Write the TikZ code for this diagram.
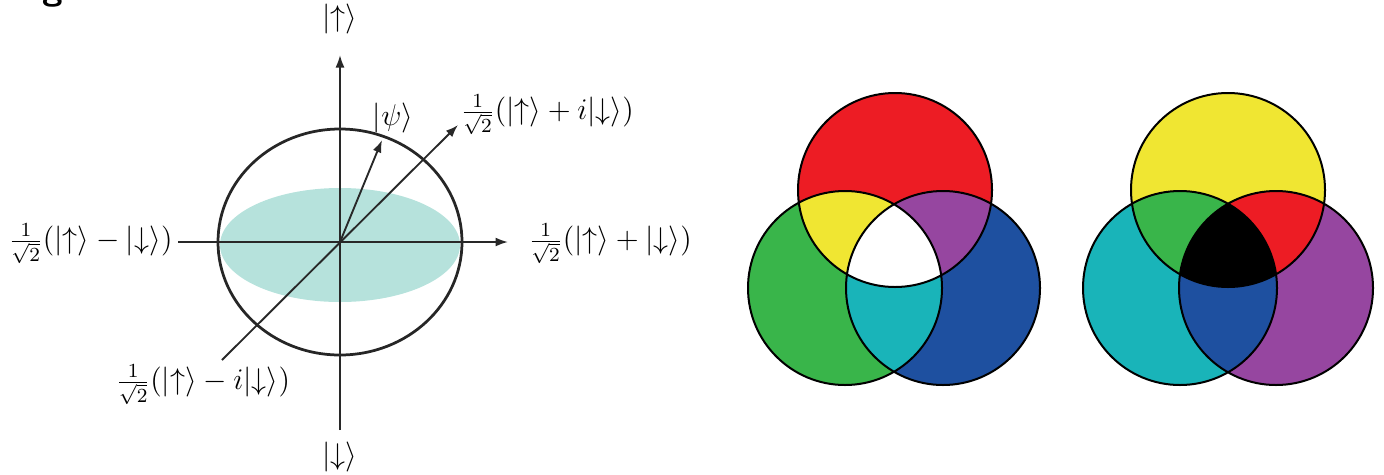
\documentclass[tikz,border=0pt]{standalone}
\usepackage{amsmath}
\usetikzlibrary{arrows.meta}
\definecolor{cred}{RGB}{237,28,36}
\definecolor{cyellow}{RGB}{240,230,50}
\definecolor{cpurple}{RGB}{150,70,160}
\definecolor{cgreen}{RGB}{57,181,74}
\definecolor{cblue}{RGB}{30,80,160}
\definecolor{ccyan}{RGB}{25,180,185}
\definecolor{cteal}{RGB}{182,226,220}
\definecolor{axisgray}{RGB}{40,40,40}
\tikzset{
  axis/.style={draw=axisgray, line width=0.75pt},
  arr/.style={axis, -{Latex[length=5pt,width=3.6pt]}},
  sphere/.style={draw=black!85, line width=1.1pt},
  lbl/.style={inner sep=0pt, font=\fontsize{12}{14}\selectfont},
  venn/.style={draw=black, line width=0.8pt},
}
\begin{document}
\begin{tikzpicture}[x=0.4pt,y=-0.4pt]
\useasboundingbox (0,0) rectangle (1384,474);
% cut-off title letter
\node[anchor=base, inner sep=0pt, font=\fontsize{15}{18}\selectfont\sffamily\bfseries] (title) at (53,-1) {g};
% Bloch sphere
\coordinate (O) at (340,242);
\fill[cteal] (340,245) ellipse [x radius=120, y radius=57];
\draw[sphere] (O) ellipse [x radius=122, y radius=113];
\coordinate (vtop) at (340,55);
\coordinate (vbot) at (340,430);
\coordinate (hleft) at (178,242);
\coordinate (hright) at (508,242);
\coordinate (dlow) at (222,360);
\coordinate (dup) at (458,125);
\coordinate (psi) at (382,140);
\draw[arr] (vbot) -- (vtop);
\draw[arr] (hleft) -- (hright);
\draw[arr] (dlow) -- (dup);
\draw[arr] (O) -- (psi);
\node[lbl] (up) at (340,19) {$|{\uparrow}\rangle$};
\node[lbl] (down) at (340,457) {$|{\downarrow}\rangle$};
\node[lbl, anchor=east] (minus) at (173,244) {$\frac{1}{\sqrt{2}}(|{\uparrow}\rangle-|{\downarrow}\rangle)$};
\node[lbl, anchor=west] (plus) at (528,244) {$\frac{1}{\sqrt{2}}(|{\uparrow}\rangle+|{\downarrow}\rangle)$};
\node[lbl, anchor=west] (plusi) at (460,115) {$\frac{1}{\sqrt{2}}(|{\uparrow}\rangle+i|{\downarrow}\rangle)$};
\node[lbl] (minusi) at (203,385) {$\frac{1}{\sqrt{2}}(|{\uparrow}\rangle-i|{\downarrow}\rangle)$};
\node[lbl] (psilbl) at (393,118) {$|\psi\rangle$};
% Venn 1 (additive)
\def\R{97}
\coordinate (A1) at (895,190);
\coordinate (B1) at (845,288);
\coordinate (C1) at (943,288);
\fill[cred] (A1) circle (\R);
\fill[cgreen] (B1) circle (\R);
\fill[cblue] (C1) circle (\R);
\begin{scope}\clip (A1) circle (\R); \fill[cyellow] (B1) circle (\R); \fill[cpurple] (C1) circle (\R);\end{scope}
\begin{scope}\clip (B1) circle (\R); \fill[ccyan] (C1) circle (\R);\end{scope}
\begin{scope}\clip (A1) circle (\R); \clip (B1) circle (\R); \fill[white] (C1) circle (\R);\end{scope}
\draw[venn] (A1) circle (\R) (B1) circle (\R) (C1) circle (\R);
% Venn 2 (subtractive)
\coordinate (A2) at (1228,190);
\coordinate (B2) at (1180,288);
\coordinate (C2) at (1276,288);
\fill[cyellow] (A2) circle (\R);
\fill[ccyan] (B2) circle (\R);
\fill[cpurple] (C2) circle (\R);
\begin{scope}\clip (A2) circle (\R); \fill[cgreen] (B2) circle (\R); \fill[cred] (C2) circle (\R);\end{scope}
\begin{scope}\clip (B2) circle (\R); \fill[cblue] (C2) circle (\R);\end{scope}
\begin{scope}\clip (A2) circle (\R); \clip (B2) circle (\R); \fill[black] (C2) circle (\R);\end{scope}
\draw[venn] (A2) circle (\R) (B2) circle (\R) (C2) circle (\R);
\end{tikzpicture}
\end{document}
